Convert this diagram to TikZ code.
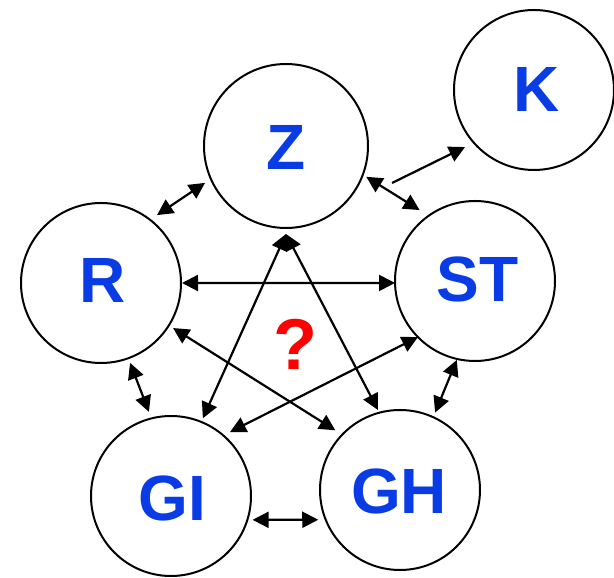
\documentclass[tikz,border=0pt]{standalone}
\usepackage{fontspec}
\setmainfont{Liberation Sans}
\usetikzlibrary{arrows.meta,calc}
\definecolor{lblue}{RGB}{10,60,230}
\definecolor{qred}{RGB}{255,0,0}
\begin{document}
\begin{tikzpicture}[x=1pt,y=1pt,
  circ/.style={circle,draw,line width=2pt,minimum size=160pt,inner sep=0pt},
  lbl/.style={inner sep=0pt,font=\fontsize{64}{64}\selectfont\bfseries,text=lblue},
  dbl/.style={line width=2.2pt,{Triangle[length=16pt,width=16pt]}-{Triangle[length=16pt,width=16pt]}},
  sgl/.style={line width=2.2pt,-{Triangle[length=16pt,width=16pt]}}]
\useasboundingbox (0,0) rectangle (614,578);
\node[circ,minimum size=164pt] (Z) at (286,432) {};
\node[circ] (R) at (101,295) {};
\node[circ] (ST) at (475,297) {};
\node[circ] (GI) at (171,82) {};
\node[circ] (GH) at (400,88) {};
\node[circ] (K) at (534,488) {};
\node[lbl] (tZ) at (286,431) {Z};
\node[lbl] (tR) at (102.5,298) {R};
\node[lbl] (tST) at (477.5,298.5) {ST};
\node[lbl] (tGI) at (172,80) {GI};
\node[lbl] (tGH) at (399,86.5) {GH};
\node[lbl] (tK) at (537,488.5) {K};
\node[inner sep=0pt,font=\fontsize{72}{72}\selectfont\bfseries,text=qred] (q) at (295,234) {?};
\coordinate (ktail) at (392,395);
\draw[dbl] ($(Z.center)+(204.5:89pt)$) -- ($(R.center)+(50.5:88pt)$);
\draw[dbl] ($(Z.center)+(-21:86pt)$) -- ($(ST.center)+(128:90pt)$);
\draw[dbl] ($(R.center)+(0:81pt)$) -- ($(ST.center)+(181.4:80pt)$);
\draw[dbl] ($(Z.center)+(-90:88pt)$) -- ($(GI.center)+(67.7:84pt)$);
\draw[dbl] ($(Z.center)+(-90:88pt)$) -- ($(GH.center)+(105.4:83pt)$);
\draw[dbl] ($(R.center)+(-32:85pt)$) -- ($(GH.center)+(137.3:88pt)$);
\draw[dbl] ($(ST.center)+(224.5:80pt)$) -- ($(GI.center)+(47.3:87pt)$);
\draw[dbl] ($(R.center)+(-70:85pt)$) -- ($(GI.center)+(104.7:87pt)$);
\draw[dbl] ($(ST.center)+(257:81pt)$) -- ($(GH.center)+(65.6:85pt)$);
\draw[dbl] ($(GI.center)+(-16.3:85pt)$) -- ($(GH.center)+(200:87pt)$);
\draw[sgl] (ktail) -- ($(K.center)+(219.6:89.5pt)$);
\end{tikzpicture}
\end{document}
